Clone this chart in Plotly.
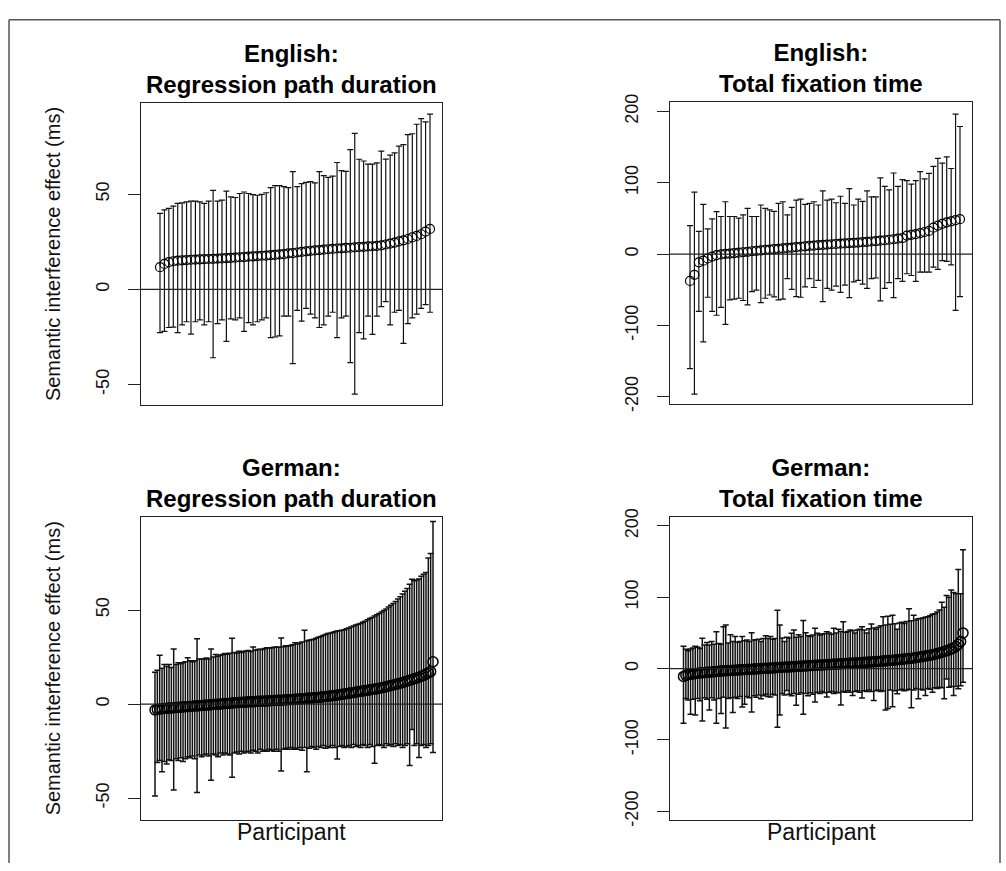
import plotly.graph_objects as go

# ---------------- DATA ----------------
en_rpd_mean = [11.7, 13.4, 14.3, 14.8, 15.1, 15.3, 15.4, 15.6, 15.7, 15.8,
               15.9, 16.0, 16.1, 16.2, 16.3, 16.5, 16.6, 16.7, 16.9, 17.0,
               17.2, 17.4, 17.5, 17.7, 17.8, 18.0, 18.2, 18.4, 18.6, 18.9,
               19.1, 19.4, 19.7, 20.0, 20.3, 20.5, 20.7, 20.9, 21.1, 21.3,
               21.5, 21.6, 21.8, 21.9, 22.1, 22.3, 22.4, 22.6, 22.7, 22.9,
               23.2, 23.6, 24.1, 24.6, 25.2, 25.8, 26.5, 27.3, 28.1, 29.0,
               30.4, 31.8]
en_rpd_upper = [40, 41.8, 42.6, 43.8, 45.2, 45.5, 46, 46.4, 46.4, 46,
                45.2, 46.4, 52, 46.4, 46.9, 51.7, 48.6, 48.3, 50.4, 51.2,
                50.4, 49.8, 49.5, 50, 50.8, 53.5, 54.5, 54.6, 54, 53.5,
                61.9, 54, 55.6, 56.3, 56.7, 56, 61.9, 59.8, 58.9, 59.5,
                66.7, 62.4, 62, 73.5, 82, 68.4, 67.5, 65.8, 65.8, 66.5,
                72.7, 68.5, 70.6, 71.8, 75.3, 76.1, 81.3, 81.8, 86.8, 89.8,
                88, 92.1]
en_rpd_lower = [-22.7, -22, -20, -19.8, -22.7, -18.6, -17, -23.5, -17, -16,
                -18.6, -17, -35.9, -18, -16, -27.3, -15.5, -16, -15, -22,
                -17.5, -18.6, -17, -16, -15, -25.3, -25, -24.4, -14, -14,
                -39, -11, -16.7, -10, -13, -15, -20, -18.6, -14, -12,
                -25.3, -15, -14, -38.5, -55, -22.7, -26, -14, -23.6, -14,
                -9, -6.4, -18.6, -12, -11, -28.4, -18, -15, -13, -10,
                -8, -12]

en_tft_mean = [-37.6, -29, -11.5, -9.2, -6, -3.5, -1.5, -0.5, 0.3, 0.8,
               1.4, 2, 2.6, 3.2, 4, 4.6, 5.2, 5.8, 6.4, 6.9,
               7.4, 8, 8.6, 9.2, 9.7, 10.3, 10.9, 11.5, 12, 12.5,
               13, 13.4, 13.8, 14.2, 14.6, 15, 15.4, 15.8, 16.2, 16.7,
               17.2, 17.7, 18.2, 18.8, 19.4, 20.1, 20.8, 21.6, 22.5, 26,
               27, 28, 29.5, 31, 32.5, 37, 40, 42.5, 44.5, 46,
               47.5, 49]
en_tft_upper = [39.9, 87, 32, 69.7, 35.3, 49.5, 59.6, 52.7, 73.4, 52.7,
                52.7, 50.4, 55, 64.2, 52.7, 52.7, 68.8, 64.2, 61.9, 60,
                71.1, 73.4, 55, 65.6, 75.6, 77, 69.7, 71.1, 73.4, 68.8,
                88.5, 75.6, 77, 72, 81.1, 71.1, 91.7, 68.8, 77, 74,
                88.5, 80.2, 80.2, 106.8, 94.9, 90, 113.7, 94.9, 104.5, 103.1,
                98, 103.1, 115.5, 105.4, 113.2, 122.9, 134.3, 127.4, 136.2, 120,
                196.3, 178.9]
en_tft_lower = [-160.5, -196.2, -80.2, -122.9, -60.5, -80.2, -85.7, -74.7, -98.6, -64.2,
                -63.2, -61.9, -65, -71.1, -52.7, -50.4, -67.9, -61.9, -57.3, -60,
                -64.2, -63.2, -34.4, -49.5, -59.6, -60.5, -45.9, -34.4, -46.8, -36.7,
                -66.5, -48.1, -50.4, -45, -53.6, -43.5, -61, -39, -36.7, -42,
                -48.1, -34.4, -33.5, -65.6, -48.1, -40, -61, -34.4, -38.1, -27.5,
                -30, -38.1, -25.2, -25.2, -25.2, -18.3, -21.5, -9.2, -10.1, -15,
                -78.8, -59.6]

de_rpd_mean = [-3.1, -2.8, -2.6, -2.4, -2.3, -2.2, -2.1, -2.0, -1.9, -1.8,
               -1.7, -1.6, -1.5, -1.4, -1.3, -1.2, -1.1, -1.0, -0.9, -0.8,
               -0.7, -0.6, -0.5, -0.4, -0.3, -0.2, -0.1, 0.0, 0.1, 0.2,
               0.3, 0.4, 0.5, 0.6, 0.7, 0.8, 0.9, 1.0, 1.0, 1.1,
               1.2, 1.3, 1.3, 1.4, 1.5, 1.5, 1.6, 1.7, 1.7, 1.8,
               1.9, 1.9, 2.0, 2.1, 2.1, 2.2, 2.3, 2.3, 2.4, 2.5,
               2.6, 2.7, 2.8, 2.9, 3.0, 3.1, 3.2, 3.3, 3.4, 3.5,
               3.6, 3.7, 3.9, 4.0, 4.2, 4.3, 4.5, 4.6, 4.8, 5.0,
               5.2, 5.4, 5.6, 5.8, 6.0, 6.2, 6.4, 6.6, 6.8, 7.0,
               7.2, 7.4, 7.6, 7.8, 8.0, 8.2, 8.4, 8.7, 9.0, 9.3,
               9.6, 9.9, 10.2, 10.5, 10.8, 11.1, 11.5, 11.9, 12.3, 12.7,
               13.1, 13.5, 13.9, 14.3, 14.8, 15.3, 16.0, 16.6, 17.3, 22.5]
de_rpd_upper = [17, 18, 26, 19, 21, 20, 21, 19.5, 29.3, 21,
                22, 21.5, 22, 22.5, 24.6, 23, 22.5, 23, 34.7, 24,
                23.8, 24, 24.5, 24, 29.3, 25, 26.4, 25.5, 26, 26.4,
                26.9, 26.5, 27, 35, 27.5, 27, 28.1, 27.5, 28, 28.2,
                28.5, 28, 30.4, 28.6, 29, 29.2, 29, 29.5, 30, 29.8,
                30, 30.2, 30.4, 30.2, 35.1, 30.5, 31, 30.8, 31.1, 31.5,
                32.6, 32, 32.5, 33, 39.2, 33.5, 34, 34.2, 34.5, 35,
                35.5, 36, 36.5, 37, 37.5, 37.7, 38, 38.5, 38.8, 39,
                39.2, 39.4, 40, 40.5, 41, 41.5, 42, 42.5, 42.9, 43.5,
                44, 44.8, 45.5, 46, 46.8, 47.5, 48.1, 49, 49.8, 50.5,
                51.6, 52.5, 53.5, 54.5, 55.9, 57, 58.5, 60, 61.5, 63.7,
                66.3, 65.5, 66, 66.5, 68, 69, 70, 77.6, 80, 97]
de_rpd_lower = [-48.8, -31, -30, -36, -30.5, -31.8, -29.5, -30, -45.6, -29,
                -30, -28.5, -30.5, -29, -28, -28.5, -27.5, -29, -47, -27,
                -28, -27, -26.5, -27.5, -40.5, -26.5, -27, -28, -26, -27,
                -26, -26.5, -27, -38.9, -26, -25.5, -26.5, -25, -26, -25.5,
                -25, -26, -24.5, -25, -26, -24, -25, -24.5, -25, -24,
                -24.5, -25, -24, -25, -35.6, -24, -23.5, -24, -23, -24,
                -23.5, -24, -23, -24.5, -23, -36, -23.5, -22.5, -23, -24,
                -22.5, -23, -22, -23.5, -22.5, -23, -22, -23, -29.2, -22.5,
                -22, -23, -22.5, -22, -23, -21.5, -22.5, -22, -23, -21.5,
                -22, -23, -21.5, -22.5, -31.4, -22, -21.5, -22, -23, -21,
                -22, -21.5, -22.5, -21, -22, -21.5, -23, -22, -21, -32.6,
                -13.5, -22, -21, -28.3, -22, -21.5, -23, -22, -21, -25.7]

de_tft_mean = [-11, -9.5, -8.5, -8, -7.5, -7, -6.6, -6.2, -5.9, -5.6,
               -5.3, -5, -4.7, -4.4, -4.1, -3.8, -3.5, -3.2, -3, -2.8,
               -2.6, -2.4, -2.2, -2, -1.8, -1.6, -1.4, -1.2, -1, -0.8,
               -0.6, -0.4, -0.2, 0, 0.2, 0.4, 0.6, 0.8, 1, 1.2,
               1.4, 1.6, 1.8, 2, 2.2, 2.4, 2.6, 2.8, 3, 3.2,
               3.4, 3.6, 3.8, 4, 4.2, 4.4, 4.6, 4.8, 5, 5.2,
               5.4, 5.6, 5.8, 6, 6.2, 6.4, 6.6, 6.8, 7, 7.2,
               7.4, 7.6, 7.8, 8, 8.2, 8.4, 8.6, 8.8, 9, 9.2,
               9.4, 9.6, 9.8, 10, 10.3, 10.6, 10.9, 11.2, 11.5, 11.8,
               12.1, 12.4, 12.7, 13, 13.4, 13.8, 14.2, 14.6, 15, 15.5,
               16, 16.5, 17, 17.6, 18.2, 18.8, 19.5, 20.2, 21, 22,
               23, 24, 25, 26.2, 27.5, 29, 31, 34, 38, 50]
de_tft_upper = [31.2, 27, 25, 27.6, 29, 31.2, 30, 28, 42.6, 33,
                36.7, 33, 38.1, 34, 51.8, 35, 34, 58.7, 61, 36,
                47.3, 38, 45, 37, 38, 45, 39, 40, 38, 50.4,
                40, 40.3, 41, 38.1, 42, 45.9, 42, 45, 41, 42,
                81.7, 61, 43, 38.1, 44, 43, 49.5, 54.1, 44, 47.3,
                45, 67.4, 50.4, 46, 45, 47, 56.4, 49.5, 47, 48,
                49, 51.8, 50, 48, 56.4, 50, 55, 52, 65.6, 51,
                52, 54, 53, 50, 54, 55, 58.7, 54, 50, 56,
                62.4, 57, 55, 58, 60, 72.5, 61, 73.4, 62, 74.7,
                63, 55, 64, 65, 63.3, 66, 84, 67, 74.7, 68,
                70, 70.1, 71, 72, 72.5, 74, 76, 77, 79.3, 82,
                93, 86, 102.3, 100, 110, 106.8, 105, 139, 105, 166.5]
de_tft_lower = [-76.5, -42, -44, -64.1, -43, -65, -42, -45, -73.3, -41,
                -43, -58.2, -41, -44, -76.5, -42, -63, -40, -83.4, -42,
                -41, -61.6, -40, -42, -39, -53.8, -50.1, -39, -41, -60.7,
                -38, -40, -37, -42.1, -38, -36, -39, -39.8, -36, -37,
                -82.1, -65, -35, -37, -30.7, -36, -38, -35, -51.5, -36,
                -34, -64.1, -35, -38, -34, -36, -46.8, -33, -35, -32,
                -34, -39.8, -33, -32, -35, -33, -34, -51.2, -32, -33,
                -31, -33, -37.6, -32, -31, -33, -41.3, -31, -32, -30,
                -32, -44.6, -31, -30, -32, -31, -58.2, -55.9, -30, -53.6,
                -31, -35.2, -30, -29, -31, -30, -29, -55, -30, -28,
                -42.1, -29, -30, -37.6, -28, -29, -33, -27, -28, -26,
                -27, -42.1, -14.6, -26, -25, -37.6, -25, -28.4, -24, -19.2]

titles = ["English:<br>Regression path duration", "English:<br>Total fixation time",
          "German:<br>Regression path duration", "German:<br>Total fixation time"]
y_title = "Semantic interference effect (ms)"
x_title = "Participant"
ticks_rpd = [-50, 0, 50]
ticks_tft = [-200, -100, 0, 100, 200]

# ---------------- FIGURE ----------------
W, H = 1006, 871
FONT = "Liberation Sans, Arial, Helvetica, sans-serif"

# panel boxes in pixels of the 1006x871 page: (left, right, top, bottom)
boxes = [(141, 442, 96, 404), (670, 972, 95, 403), (141, 442, 518, 827), (670, 972, 518, 827)]
# pixel offset of first / last point from box edges
offsets = [(19, 12), (20, 12), (14, 9), (13.5, 9)]
yranges = [[-60.8, 97.9], [-210.3, 213], [-61.5, 99.5], [-212, 212.6]]
yticks = [ticks_rpd, ticks_tft, ticks_rpd, ticks_tft]
series = [(en_rpd_mean, en_rpd_upper, en_rpd_lower),
          (en_tft_mean, en_tft_upper, en_tft_lower),
          (de_rpd_mean, de_rpd_upper, de_rpd_lower),
          (de_tft_mean, de_tft_upper, de_tft_lower)]

fig = go.Figure()
layout = dict(autosize=True, margin=dict(l=0, r=0, t=0, b=0, pad=0),
              paper_bgcolor="white", plot_bgcolor="white", showlegend=False,
              font=dict(family=FONT, color="black"))
annotations = []
shapes = []

for i, ((mean, up, lo), box) in enumerate(zip(series, boxes)):
    k = "" if i == 0 else str(i + 1)
    n = len(mean)
    dense = n > 100
    xs = list(range(1, n + 1))
    fig.add_trace(go.Scatter(
        x=xs, y=mean, mode="markers", xaxis="x" + k, yaxis="y" + k,
        marker=dict(symbol="circle-open", size=10 if dense else 9,
                    color="black", line=dict(width=1.5 if dense else 1.2, color="black")),
        error_y=dict(type="data", symmetric=False,
                     array=[u - m for u, m in zip(up, mean)],
                     arrayminus=[m - l for m, l in zip(mean, lo)],
                     color="#111", thickness=1.5 if dense else 1.2, width=3),
        hoverinfo="skip"))
    L, R, T, B = box
    span_px = (R - L) - offsets[i][0] - offsets[i][1]
    d = span_px / (n - 1)
    xr = [1 - offsets[i][0] / d, n + offsets[i][1] / d]
    layout["xaxis" + k] = dict(domain=[L / W, R / W], range=xr, anchor="y" + k,
                               showline=True, mirror=True, linecolor="#222", linewidth=1.2,
                               showgrid=False, zeroline=False, showticklabels=False, ticks="")
    layout["yaxis" + k] = dict(domain=[1 - B / H, 1 - T / H], range=yranges[i], anchor="x" + k,
                               showline=True, mirror=True, linecolor="#222", linewidth=1.2,
                               showgrid=False, zeroline=False, ticks="outside", ticklen=12,
                               tickcolor="#222", tickwidth=1.2, tickvals=yticks[i],
                               ticktext=[str(v) for v in yticks[i]], tickangle=-90,
                               tickfont=dict(size=18, family=FONT, color="#111"),
                               ticklabelstandoff=12)
    shapes.append(dict(type="line", xref="x" + k + " domain", yref="y" + k,
                       x0=0, x1=1, y0=0, y1=0, line=dict(color="#222", width=1.2)))
    annotations.append(dict(text="<b>" + titles[i] + "</b>", xref="paper", yref="paper",
                            x=(L + R) / 2 / W, y=1 - (T - 3) / H, xanchor="center", yanchor="bottom",
                            showarrow=False, font=dict(size=24, family=FONT, color="black")))
    if i in (0, 2):
        annotations.append(dict(text=y_title, xref="paper", yref="paper", textangle=-90,
                                x=53 / W, y=1 - (T + B) / 2 / H, xanchor="center", yanchor="middle",
                                showarrow=False, font=dict(size=20, family=FONT, color="#111")))
    if i in (2, 3):
        annotations.append(dict(text=x_title, xref="paper", yref="paper",
                                x=(L + R) / 2 / W, y=1 - 839 / H, xanchor="center", yanchor="middle",
                                showarrow=False, font=dict(size=23, family=FONT, color="#111")))

# outer frame
shapes.append(dict(type="line", xref="paper", yref="paper", x0=9 / W, x1=1000 / W,
                   y0=1 - 11 / H, y1=1 - 11 / H, line=dict(color="#555", width=1.5)))
shapes.append(dict(type="line", xref="paper", yref="paper", x0=9 / W, x1=9 / W,
                   y0=1 - 11 / H, y1=0, line=dict(color="#555", width=1.5)))
shapes.append(dict(type="line", xref="paper", yref="paper", x0=1000 / W, x1=1000 / W,
                   y0=1 - 11 / H, y1=0, line=dict(color="#555", width=1.5)))

layout["annotations"] = annotations
layout["shapes"] = shapes
fig.update_layout(**layout)

# the figure fills the browser window exactly; remove the default page margin
page_fix = ("document.body.style.margin='0';document.body.style.padding='0';"
            "document.documentElement.style.overflow='hidden';"
            "document.body.style.overflow='hidden';")
fig.write_html("out.html", post_script=page_fix,
               default_width="100vw", default_height="100vh",
               config={"displayModeBar": False, "responsive": True})
